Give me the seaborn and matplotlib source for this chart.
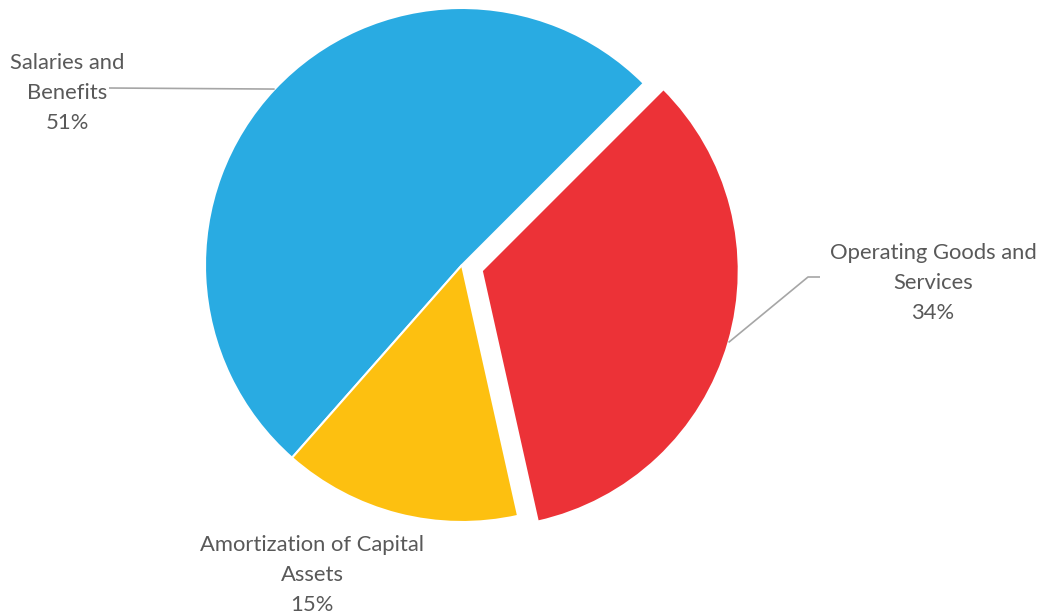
import numpy as np
import matplotlib
matplotlib.use("Agg")
import matplotlib.pyplot as plt
import seaborn as sns

# Expense breakdown
categories = ["Salaries and\nBenefits", "Amortization of Capital\nAssets", "Operating Goods and\nServices"]
shares = [51, 15, 34]
colors = ["#29ABE2", "#FDC010", "#EC3237"]
explode = [0, 0, 0.08]

sns.set_theme(style="white")
plt.rcParams["font.family"] = ["Lato", "DejaVu Sans"]

W, H = 1041, 616
R = 257.0            # pie radius in pixels
CX, CY = 462, 265    # pie centre in pixels (from top-left)

fig = plt.figure(figsize=(W / 100, H / 100), dpi=100)
ax = fig.add_axes([0, 0, 1, 1])

wedges, _ = ax.pie(shares, colors=colors, explode=explode, startangle=45,
                   counterclock=True, radius=1.0,
                   wedgeprops=dict(edgecolor="white", linewidth=1.5))

# pie() resets the limits, so fix the pixel-aligned frame afterwards
ax.set_xlim(-CX / R, (W - CX) / R)
ax.set_ylim(-(H - CY) / R, CY / R)
ax.set_aspect("equal")
ax.axis("off")


def px(x, y):
    return (x - CX) / R, (CY - y) / R


def edge_point(w):
    ang = np.deg2rad((w.theta1 + w.theta2) / 2)
    cx, cy = w.center
    return cx + w.r * np.cos(ang), cy + w.r * np.sin(ang)


text_kw = dict(fontsize=15.8, color="#595959", ha="center", va="center", linespacing=1.6)
leader_kw = dict(color="#A6A6A6", lw=1.2, solid_capstyle="butt")

# Salaries and Benefits
ex, ey = edge_point(wedges[0])
lx, ly = px(109, 88)
ax.plot([ex, lx], [ey, ly], **leader_kw)
ax.text(*px(67, 93), f"{categories[0]}\n{shares[0]}%", **text_kw)

# Amortization of Capital Assets
ax.text(*px(312, 575), f"{categories[1]}\n{shares[1]}%", **text_kw)

# Operating Goods and Services
ex, ey = edge_point(wedges[2])
kx, ky = px(808, 277)
tx, ty = px(820, 277)
ax.plot([ex, kx, tx], [ey, ky, ty], **leader_kw)
ax.text(*px(933, 283), f"{categories[2]}\n{shares[2]}%", **text_kw)

fig.savefig("out.png", dpi=100, facecolor="white")
